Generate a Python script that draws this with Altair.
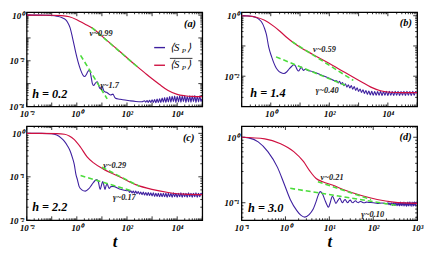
import math
import altair as alt
import pandas as pd

FONT = "Liberation Serif"
BLUE = "#3d1f9f"
RED = "#cf1040"
GREEN = "#4cdc3c"
W, H = 179, 96

# ---------------- data (log10 t, log10 S) ----------------
# panel (a) h = 0.2
A_BLUE = [(-2.0, 0.0), (-1.5, 0.0), (-1.2, -0.01), (-1.0, -0.02), (-0.8, -0.05), (-0.6, -0.11),
          (-0.45, -0.2), (-0.37, -0.31), (-0.27, -0.55), (-0.18, -0.95), (-0.1, -1.35), (-0.03, -1.7),
          (0.05, -2.05), (0.15, -2.4), (0.24, -2.62), (0.31, -2.69), (0.38, -2.6), (0.45, -2.45),
          (0.51, -2.42), (0.57, -2.7), (0.62, -3.0), (0.67, -3.08), (0.74, -2.98), (0.82, -2.92),
          (0.88, -3.12), (0.93, -3.22), (0.98, -3.14), (1.02, -3.15), (1.08, -3.32), (1.12, -3.36),
          (1.18, -3.38), (1.25, -3.43), (1.35, -3.5), (1.44, -3.46), (1.5, -3.58), (1.54, -3.64),
          (1.7, -3.68), (1.83, -3.71), (2.1, -3.75), (2.35, -3.78), (2.6, -3.79),
          (2.70, -3.75), (2.75, -3.81), (2.80, -3.74), (2.85, -3.82), (2.90, -3.73), (2.95, -3.83),
          (3.00, -3.71), (3.05, -3.82), (3.10, -3.70), (3.15, -3.84), (3.20, -3.68), (3.25, -3.83),
          (3.30, -3.66), (3.35, -3.82), (3.40, -3.63), (3.45, -3.81), (3.50, -3.61), (3.55, -3.83),
          (3.60, -3.60), (3.65, -3.80), (3.70, -3.57), (3.75, -3.81), (3.80, -3.56), (3.85, -3.79),
          (3.90, -3.54), (3.95, -3.82), (4.00, -3.55), (4.05, -3.80), (4.10, -3.53), (4.15, -3.81),
          (4.20, -3.54), (4.25, -3.79), (4.30, -3.52), (4.35, -3.82), (4.40, -3.55), (4.45, -3.80),
          (4.50, -3.53), (4.55, -3.81), (4.60, -3.54), (4.65, -3.79), (4.70, -3.52), (4.75, -3.82),
          (4.80, -3.55), (4.85, -3.80), (4.90, -3.53), (4.95, -3.79), (5.00, -3.66)]
A_RED = [(-2.0, 0.0), (-1.0, -0.005), (-0.6, -0.02), (-0.3, -0.07), (0.0, -0.2), (0.3, -0.38),
         (0.67, -0.61), (1.0, -0.92), (1.5, -1.39), (2.0, -1.87), (2.35, -2.2), (2.7, -2.52),
         (3.0, -2.79), (3.3, -3.04), (3.64, -3.3), (4.0, -3.47), (4.3, -3.53), (4.6, -3.56), (5.0, -3.57)]
A_FIT_NU = [(0.6, -0.55), (2.45, -2.3)]
A_FIT_GAMMA = [(0.15, -1.76), (1.21, -3.67)]

# panel (b) h = 1.4
B_BLUE = [(-1.0, 0.0), (-0.8, -0.005), (-0.65, -0.02), (-0.5, -0.06), (-0.4, -0.12), (-0.32, -0.2),
          (-0.22, -0.4), (-0.15, -0.62), (-0.07, -1.04), (0.03, -1.36), (0.1, -1.55), (0.18, -1.72),
          (0.26, -1.82), (0.34, -1.88), (0.45, -1.91), (0.54, -1.86), (0.62, -1.77), (0.72, -1.67),
          (0.79, -1.62), (0.84, -1.66), (0.9, -1.78), (0.95, -1.83), (1.0, -1.76), (1.04, -1.70),
          (1.08, -1.76), (1.12, -1.81), (1.17, -1.77), (1.25, -1.8), (1.44, -1.85), (1.7, -1.95),
          (2.0, -2.07), (2.2, -2.15),
          (2.25, -2.15), (2.30, -2.22), (2.35, -2.17), (2.40, -2.26), (2.45, -2.21), (2.50, -2.31),
          (2.55, -2.25), (2.60, -2.36), (2.65, -2.28), (2.70, -2.39), (2.75, -2.31), (2.80, -2.43),
          (2.85, -2.34), (2.90, -2.47), (2.95, -2.38), (3.00, -2.50), (3.05, -2.42), (3.10, -2.54),
          (3.15, -2.45), (3.20, -2.57), (3.25, -2.47), (3.30, -2.60), (3.35, -2.49), (3.40, -2.62),
          (3.45, -2.50), (3.50, -2.63), (3.55, -2.51), (3.60, -2.63), (3.65, -2.51), (3.70, -2.63),
          (3.75, -2.50), (3.80, -2.64), (3.85, -2.51), (3.90, -2.63), (3.95, -2.50), (4.00, -2.64),
          (4.05, -2.50), (4.10, -2.63), (4.15, -2.51), (4.20, -2.64), (4.25, -2.50), (4.30, -2.63),
          (4.35, -2.50), (4.40, -2.64), (4.45, -2.51), (4.50, -2.63), (4.55, -2.50), (4.60, -2.64),
          (4.65, -2.50), (4.70, -2.63), (4.75, -2.51), (4.80, -2.64), (4.85, -2.50), (4.90, -2.63),
          (4.95, -2.51), (5.00, -2.57)]
B_RED = [(-1.0, 0.0), (-0.76, -0.01), (-0.5, -0.05), (-0.21, -0.15), (0.12, -0.36), (0.34, -0.54),
         (0.56, -0.73), (0.73, -0.86), (1.0, -1.04), (1.44, -1.28), (1.99, -1.57), (2.54, -1.88),
         (3.09, -2.18), (3.42, -2.36), (3.75, -2.48), (4.08, -2.53), (4.5, -2.54), (5.0, -2.54)]
B_FIT_NU = [(0.73, -0.86), (2.82, -2.14)]
B_FIT_GAMMA = [(0.18, -1.36), (2.54, -2.3)]

# panel (c) h = 2.2
C_BLUE = [(-2.0, 0.0), (-1.4, 0.0), (-1.01, -0.01), (-0.8, -0.04), (-0.62, -0.11), (-0.5, -0.18),
          (-0.37, -0.29), (-0.27, -0.4), (-0.17, -0.57), (-0.1, -0.72), (-0.04, -0.93), (0.03, -1.08),
          (0.09, -1.22), (0.2, -1.3), (0.34, -1.33), (0.47, -1.28), (0.6, -1.18), (0.72, -1.09),
          (0.8, -1.06), (0.86, -1.12), (0.93, -1.29), (0.98, -1.2), (1.03, -1.11), (1.08, -1.2),
          (1.12, -1.29), (1.17, -1.2), (1.21, -1.16), (1.25, -1.22), (1.29, -1.27), (1.35, -1.23),
          (1.44, -1.22), (1.7, -1.28), (2.0, -1.32),
          (2.05, -1.31), (2.10, -1.36), (2.15, -1.32), (2.20, -1.37), (2.25, -1.33), (2.30, -1.38),
          (2.35, -1.33), (2.40, -1.39), (2.45, -1.34), (2.50, -1.40), (2.55, -1.35), (2.60, -1.41),
          (2.65, -1.35), (2.70, -1.42), (2.75, -1.36), (2.80, -1.43), (2.85, -1.36), (2.90, -1.43),
          (2.95, -1.37), (3.00, -1.44), (3.05, -1.37), (3.10, -1.45), (3.15, -1.38), (3.20, -1.45),
          (3.25, -1.38), (3.30, -1.46), (3.35, -1.38), (3.40, -1.46), (3.45, -1.38), (3.50, -1.46),
          (3.55, -1.38), (3.60, -1.47), (3.65, -1.38), (3.70, -1.46), (3.75, -1.38), (3.80, -1.47),
          (3.85, -1.37), (3.90, -1.46), (3.95, -1.38), (4.00, -1.47), (4.05, -1.38), (4.10, -1.46),
          (4.15, -1.37), (4.20, -1.47), (4.25, -1.38), (4.30, -1.46), (4.35, -1.38), (4.40, -1.47),
          (4.45, -1.37), (4.50, -1.46), (4.55, -1.38), (4.60, -1.47), (4.65, -1.38), (4.70, -1.46),
          (4.75, -1.37), (4.80, -1.47), (4.85, -1.38), (4.90, -1.46), (4.95, -1.38), (5.00, -1.42)]
C_RED = [(-2.0, 0.0), (-0.8, -0.005), (-0.49, -0.02), (-0.3, -0.06), (-0.11, -0.14), (0.15, -0.32),
         (0.41, -0.54), (0.67, -0.68), (1.05, -0.82), (1.7, -1.0), (2.35, -1.18), (2.99, -1.29),
         (3.64, -1.36), (4.28, -1.40), (5.0, -1.41)]
C_FIT_NU = [(1.0, -0.78), (2.5, -1.22)]
C_FIT_GAMMA = [(0.15, -0.97), (2.22, -1.33)]

# panel (d) h = 3.0
D_BLUE = [(-1.0, 0.0), (-0.84, -0.01), (-0.62, -0.07), (-0.4, -0.22), (-0.18, -0.46), (-0.03, -0.71),
          (0.11, -0.95), (0.26, -1.12), (0.35, -1.19), (0.44, -1.22), (0.54, -1.18), (0.63, -1.10),
          (0.70, -0.98), (0.75, -0.88), (0.79, -0.83), (0.84, -0.86), (0.9, -0.96), (0.95, -1.04),
          (0.98, -1.07), (1.02, -1.0), (1.07, -0.90), (1.11, -0.95), (1.15, -1.01), (1.2, -0.96),
          (1.24, -0.93), (1.27, -0.97), (1.30, -1.0), (1.33, -0.97), (1.36, -0.95), (1.39, -0.98),
          (1.42, -1.0), (1.45, -0.97), (1.48, -0.96), (1.51, -0.99), (1.54, -1.0), (1.57, -0.98),
          (1.6, -0.97), (1.63, -0.99), (1.66, -1.0), (1.69, -0.985), (1.72, -0.98), (1.76, -0.995),
          (1.80, -1.0), (1.84, -0.99), (1.9, -0.995), (2.0, -1.0), (2.1, -1.01), (2.2, -1.005),
          (2.3, -1.015),
          (2.34, -1.00), (2.36, -1.03), (2.38, -1.005), (2.40, -1.035), (2.42, -1.0), (2.44, -1.04),
          (2.46, -1.0), (2.48, -1.04), (2.50, -0.995), (2.52, -1.045), (2.54, -1.0), (2.56, -1.045),
          (2.58, -0.995), (2.60, -1.05), (2.62, -0.99), (2.64, -1.045), (2.66, -0.995), (2.68, -1.05),
          (2.70, -0.99), (2.72, -1.05), (2.74, -0.995), (2.76, -1.055), (2.78, -0.99), (2.80, -1.05),
          (2.82, -0.985), (2.84, -1.05), (2.86, -0.99), (2.88, -1.055), (2.90, -0.99), (2.92, -1.05),
          (2.94, -0.985), (2.96, -1.05), (2.98, -0.99), (3.00, -1.02)]
D_RED = [(-1.0, 0.0), (-0.47, -0.024), (-0.11, -0.1), (0.19, -0.22), (0.41, -0.37), (0.55, -0.51),
         (0.7, -0.63), (0.85, -0.68), (1.07, -0.73), (1.36, -0.81), (1.73, -0.89), (2.09, -0.95),
         (2.46, -0.99), (3.0, -1.01)]
D_FIT_NU = [(0.74, -0.68), (1.95, -0.95)]
D_FIT_GAMMA = [(0.11, -0.78), (2.53, -1.04)]

# annotation anchors (log10 t, log10 S, text)
A_NOTES = [(0.51, -0.79, "ν~0.99"), (0.94, -3.08, "γ~1.7")]
B_NOTES = [(1.44, -1.10, "ν~0.59"), (1.54, -2.45, "γ~0.40")]
C_NOTES = [(1.05, -0.73, "ν~0.29"), (1.44, -1.46, "γ~0.17")]
D_NOTES = [(0.80, -0.61, "ν~0.21"), (1.73, -1.17, "γ~0.10")]
LETTERS = [(4.27, -0.375, "(a)"), (4.41, -0.25, "(b)"), (4.23, -0.11, "(c)"), (2.60, 0.0, "(d)")]
HLABELS = [(-1.78, -3.46, "h = 0.2"), (-0.70, -2.57, "h = 1.4"), (-1.78, -1.70, "h = 2.2"), (-0.85, -1.08, "h = 3.0")]

X_DOMAINS = [(1e-2, 1e5), (1e-1, 1e5), (1e-2, 1e5), (1e-1, 1e3)]
Y_DOMAINS = [(1e-4, 1.33), (1e-3, 1.3), (1e-2, 1.47), (0.054, 1.48)]
X_LABELS = [[1e-2, 1, 1e2, 1e4], [1, 1e2, 1e4], [1e-2, 1, 1e2, 1e4], [0.1, 1, 10, 100, 1000]]
Y_LABELS = [[1e-4, 1e-2, 1], [1e-2, 1], [1e-2, 1e-1, 1], [0.1, 1]]

LAB = ("'10' + replace(replace(replace(replace(replace(replace(''+round(log(datum.value)/LN10),"
       "'-','⁻'),'0','⁰'),'1','¹'),'2','²'),'3','³'),'4','⁴')")


def frame(pairs):
    return pd.DataFrame({"x": [10 ** a for a, b in pairs], "y": [10 ** b for a, b in pairs]})


def decade_ticks(lo, hi):
    major, minor = [], []
    for e in range(math.floor(math.log10(lo)) - 1, math.ceil(math.log10(hi)) + 1):
        for k in range(1, 10):
            v = k * 10.0 ** e
            if lo * 0.999 <= v <= hi * 1.001:
                (major if k == 1 else minor).append(v)
    return major, minor


def panel(i, blue, red, fit_nu, fit_gamma, notes, bottom, legend=False):
    xs = alt.Scale(type="log", domain=list(X_DOMAINS[i]), nice=False)
    ys = alt.Scale(type="log", domain=list(Y_DOMAINS[i]), nice=False)
    common = dict(ticks=False, domain=False, grid=False, labelFont=FONT, labelFontStyle="italic",
                  labelFontWeight="bold", labelFontSize=9, labelColor="black", labelPadding=3,
                  labelOverlap=False, labelExpr=LAB)
    xaxis = alt.Axis(values=X_LABELS[i], labelFlush=False, titleFont=FONT, titleFontSize=17,
                     titleFontStyle="italic", titleFontWeight="bold", titleColor="black",
                     titlePadding=2, **common)
    yaxis = alt.Axis(values=Y_LABELS[i], **common)
    ex = alt.X("x:Q", scale=xs, axis=xaxis, title="t" if bottom else None)
    ey = alt.Y("y:Q", scale=ys, axis=yaxis, title=None)

    layers = []
    xmaj, xmin = decade_ticks(*X_DOMAINS[i])
    ymaj, ymin = decade_ticks(*Y_DOMAINS[i])
    for vals, ln in ((xmaj, 4), (xmin, 2)):
        d = pd.DataFrame({"x": vals})
        layers.append(alt.Chart(d).mark_rule(color="black", strokeWidth=0.8).encode(
            x=ex, y=alt.value(H), y2=alt.value(H - ln)))
        layers.append(alt.Chart(d).mark_rule(color="black", strokeWidth=0.8).encode(
            x=ex, y=alt.value(0), y2=alt.value(ln)))
    for vals, ln in ((ymaj, 4), (ymin, 2)):
        d = pd.DataFrame({"y": vals})
        layers.append(alt.Chart(d).mark_rule(color="black", strokeWidth=0.8).encode(
            y=ey, x=alt.value(0), x2=alt.value(ln)))
        layers.append(alt.Chart(d).mark_rule(color="black", strokeWidth=0.8).encode(
            y=ey, x=alt.value(W), x2=alt.value(W - ln)))

    layers.append(alt.Chart(frame(blue)).mark_line(color=BLUE, strokeWidth=1.1, interpolate="monotone",
                                                  clip=True).encode(x=ex, y=ey))
    layers.append(alt.Chart(frame(red)).mark_line(color=RED, strokeWidth=1.2, interpolate="monotone",
                                                 clip=True).encode(x=ex, y=ey))
    fits = frame(fit_nu).assign(g="nu")
    fits = pd.concat([fits, frame(fit_gamma).assign(g="gamma")])
    layers.append(alt.Chart(fits).mark_line(color=GREEN, strokeWidth=1.6, strokeDash=[5, 3]).encode(
        x=ex, y=ey, detail="g:N"))

    nd = pd.DataFrame({"x": [10 ** a for a, b, c in notes], "y": [10 ** b for a, b, c in notes],
                       "label": [c for a, b, c in notes]})
    layers.append(alt.Chart(nd).mark_text(align="left", baseline="middle", font=FONT, fontSize=8.5,
                                          fontStyle="italic", fontWeight="bold", color="#222222").encode(
        x=ex, y=ey, text="label:N"))
    a, b, c = LETTERS[i]
    ld = pd.DataFrame({"x": [10 ** a], "y": [10 ** b], "label": [c]})
    layers.append(alt.Chart(ld).mark_text(align="left", baseline="middle", font=FONT, fontSize=10.5,
                                          fontStyle="italic", fontWeight="bold", color="black").encode(
        x=ex, y=ey, text="label:N"))
    a, b, c = HLABELS[i]
    hd = pd.DataFrame({"x": [10 ** a], "y": [10 ** b], "label": [c]})
    layers.append(alt.Chart(hd).mark_text(align="left", baseline="middle", font=FONT, fontSize=12.5,
                                          fontStyle="italic", fontWeight="bold", color="black").encode(
        x=ex, y=ey, text="label:N"))

    if legend:
        one = pd.DataFrame({"k": [0]})
        for col, yy in ((BLUE, 36), (RED, 54)):
            layers.append(alt.Chart(one).mark_rule(color=col, strokeWidth=1.4).encode(
                x=alt.value(130), x2=alt.value(141), y=alt.value(yy)))
            layers.append(alt.Chart(one).mark_text(text="⟨S", align="left", baseline="middle", font=FONT,
                                                   fontSize=11, fontStyle="italic", color="black").encode(
                x=alt.value(146), y=alt.value(yy)))
            layers.append(alt.Chart(one).mark_text(text="P", align="left", baseline="middle", font=FONT,
                                                   fontSize=7, fontStyle="italic", color="black").encode(
                x=alt.value(158), y=alt.value(yy + 3)))
            layers.append(alt.Chart(one).mark_text(text="⟩", align="left", baseline="middle", font=FONT,
                                                   fontSize=11, fontStyle="italic", color="black").encode(
                x=alt.value(163), y=alt.value(yy)))
        layers.append(alt.Chart(one).mark_rule(color="black", strokeWidth=0.8).encode(
            x=alt.value(146), x2=alt.value(169), y=alt.value(47)))

    return alt.layer(*layers).properties(width=W, height=H)


pa = panel(0, A_BLUE, A_RED, A_FIT_NU, A_FIT_GAMMA, A_NOTES, False, legend=True)
pb = panel(1, B_BLUE, B_RED, B_FIT_NU, B_FIT_GAMMA, B_NOTES, False)
pc = panel(2, C_BLUE, C_RED, C_FIT_NU, C_FIT_GAMMA, C_NOTES, True)
pd_ = panel(3, D_BLUE, D_RED, D_FIT_NU, D_FIT_GAMMA, D_NOTES, True)

chart = alt.concat(pa, pb, pc, pd_, columns=2, spacing={"row": 20, "column": 40}, bounds="flush").configure_view(
    stroke="black", strokeWidth=1.3).properties(padding={"left": 0, "top": 0, "right": 0, "bottom": 0})

chart.save("out.html", embed_options={"renderer": "svg", "actions": False})
